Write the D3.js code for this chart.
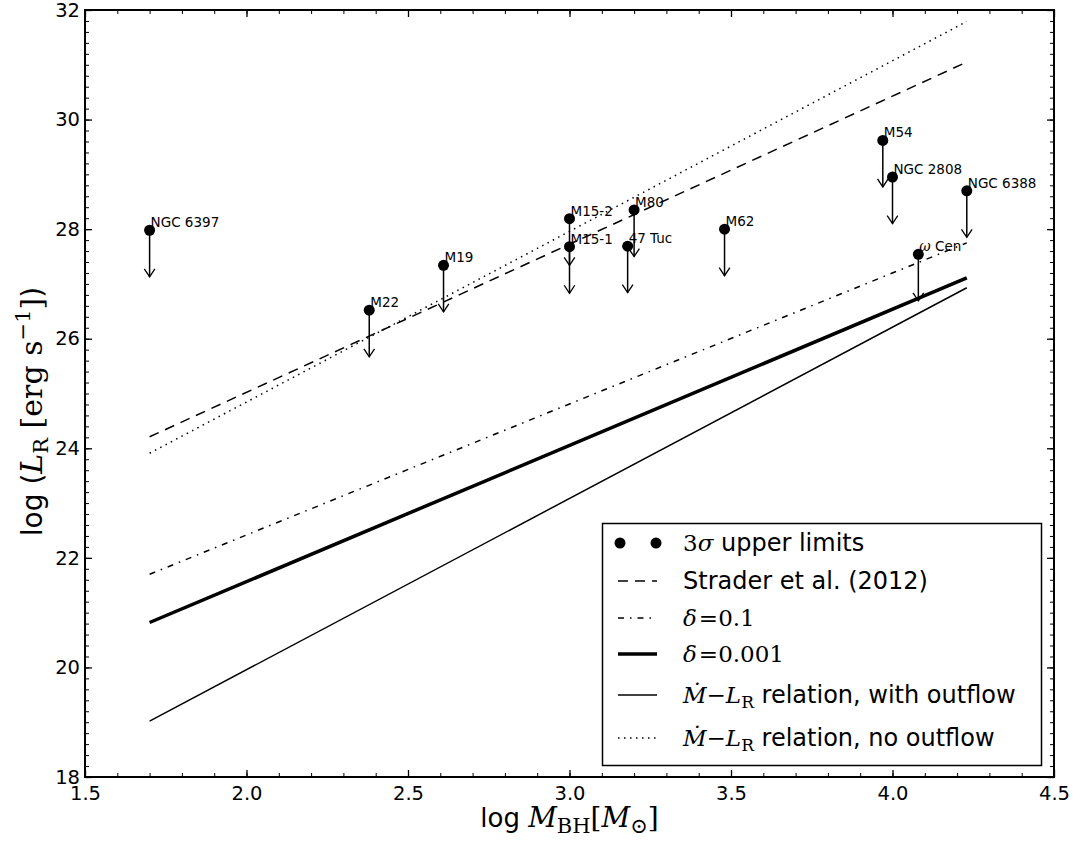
<!DOCTYPE html>
<html>
<head>
<meta charset="utf-8">
<script src="https://cdn.jsdelivr.net/npm/d3@7"></script>
<style>
  body { margin: 0; background: #fff; }
  text { fill: #000; }
  .sans { font-family: 'DejaVu Sans', sans-serif; }
  .math { font-family: 'DejaVu Serif', serif; }
</style>
</head>
<body>
<div class="container"></div>
<script>
// globular clusters, 3 sigma upper limits
const clusters = ['NGC 6397', 'M22', 'M19', 'M15-2', 'M15-1', 'M80', '47 Tuc', 'M62', 'M54', 'NGC 2808', 'NGC 6388', 'ω Cen']
const logMass = [1.70, 2.38, 2.61, 3.00, 3.00, 3.20, 3.18, 3.48, 3.97, 4.00, 4.23, 4.08]
const logLum = [27.98, 26.52, 27.34, 28.19, 27.68, 28.35, 27.69, 28.00, 29.62, 28.95, 28.70, 27.54]
const limitLength = 0.85

// model relations, evaluated at the two ends of the mass range
const relationMass = [1.70, 4.23]
const strader = [24.21, 31.05]
const noOutflow = [23.91, 31.79]
const delta01 = [21.70, 27.75]
const delta0001 = [20.82, 27.11]
const withOutflow = [19.02, 26.93]

const xTicks = [1.5, 2.0, 2.5, 3.0, 3.5, 4.0, 4.5]
const yTicks = [18, 20, 22, 24, 26, 28, 30, 32]

const width = 1076
const height = 849
const margin = { left: 85, top: 10, right: 22, bottom: 72 }

const svg = d3.select('.container').append('svg')
  .attr('width', width).attr('height', height)

const x = d3.scaleLinear().domain([1.5, 4.5]).range([margin.left, width - margin.right])
const y = d3.scaleLinear().domain([18, 32]).range([height - margin.bottom, margin.top])

// relation lines
const relations = [
  { values: strader, width: 1.5, dash: '10,7' },
  { values: noOutflow, width: 1.5, dash: '1.5,4.5' },
  { values: delta01, width: 1.5, dash: '6,6,1.5,6' },
  { values: delta0001, width: 3.5, dash: null },
  { values: withOutflow, width: 1.5, dash: null }
]

const line = d3.line().x(d => x(d[0])).y(d => y(d[1]))

svg.append('g').selectAll('path')
  .data(relations)
  .enter().append('path')
    .attr('d', d => line(relationMass.map((m, i) => [m, d.values[i]])))
    .attr('fill', 'none')
    .attr('stroke', '#000')
    .attr('stroke-width', d => d.width)
    .attr('stroke-dasharray', d => d.dash)

// upper limits
const points = clusters.map((name, i) => ({ name, m: logMass[i], l: logLum[i] }))

const limits = svg.append('g').selectAll('g')
  .data(points)
  .enter().append('g')

limits.append('line')
  .attr('x1', d => x(d.m)).attr('x2', d => x(d.m))
  .attr('y1', d => y(d.l)).attr('y2', d => y(d.l - limitLength))
  .attr('stroke', '#000').attr('stroke-width', 1.5)

limits.append('path')
  .attr('d', d => {
    const px = x(d.m)
    const py = y(d.l - limitLength)
    return `M${ px - 5.3 },${ py - 8 }L${ px },${ py }L${ px + 5.3 },${ py - 8 }`
  })
  .attr('fill', 'none').attr('stroke', '#000').attr('stroke-width', 1.3)

limits.append('circle')
  .attr('cx', d => x(d.m)).attr('cy', d => y(d.l))
  .attr('r', 5.5).attr('fill', '#000')

limits.append('text')
  .attr('class', 'sans')
  .attr('x', d => x(d.m) + 1)
  .attr('y', d => y(d.l) - 3)
  .attr('font-size', 13.5)
  .each(function (d) {
    const t = d3.select(this)
    if (d.name.startsWith('ω')) {
      t.append('tspan').attr('class', 'math').attr('font-style', 'italic').attr('font-size', 14).text('ω')
      t.append('tspan').text(d.name.slice(1))
    } else {
      t.text(d.name)
    }
  })

// axes, ticks pointing inward on all four sides
const plotW = width - margin.left - margin.right
const plotH = height - margin.top - margin.bottom
const xMinor = d3.range(1.5, 4.501, 0.1)
const yMinor = d3.range(18, 32.001, 0.2)

const axisDefs = [
  { axis: d3.axisBottom, scale: x, at: `translate(0,${ height - margin.bottom })`, labels: true },
  { axis: d3.axisTop, scale: x, at: `translate(0,${ margin.top })`, labels: false },
  { axis: d3.axisLeft, scale: y, at: `translate(${ margin.left },0)`, labels: true },
  { axis: d3.axisRight, scale: y, at: `translate(${ width - margin.right },0)`, labels: false }
]

axisDefs.forEach(def => {
  const isX = def.scale === x
  const minor = def.axis(def.scale).tickValues(isX ? xMinor : yMinor).tickSize(-4).tickFormat('')
  svg.append('g').attr('transform', def.at).call(minor)
    .call(g => g.select('.domain').remove())
    .call(g => g.selectAll('line').attr('stroke', '#000').attr('stroke-width', 1))

  const major = def.axis(def.scale)
    .tickValues(isX ? xTicks : yTicks)
    .tickSize(-7)
    .tickPadding(isX ? 9 : 5)
    .tickFormat(def.labels ? (isX ? d3.format('.1f') : d3.format('d')) : '')
  svg.append('g').attr('class', 'sans').attr('transform', def.at).call(major)
    .call(g => g.select('.domain').remove())
    .call(g => g.selectAll('line').attr('stroke', '#000').attr('stroke-width', 1.3))
    .call(g => g.selectAll('text').attr('font-size', 19.5).attr('font-family', 'DejaVu Sans').attr('fill', '#000'))
})

svg.append('rect')
  .attr('x', margin.left).attr('y', margin.top)
  .attr('width', plotW).attr('height', plotH)
  .attr('fill', 'none').attr('stroke', '#000').attr('stroke-width', 2)

// axis labels
const xLabel = svg.append('text')
  .attr('x', margin.left + plotW / 2).attr('y', 827)
  .attr('text-anchor', 'middle').attr('font-size', 26)
xLabel.append('tspan').attr('class', 'sans').text('log ')
xLabel.append('tspan').attr('class', 'math').attr('font-style', 'italic').attr('font-size', 28).text('M')
xLabel.append('tspan').attr('class', 'math').attr('font-size', 21).attr('dy', 6).text('BH')
xLabel.append('tspan').attr('class', 'math').attr('font-size', 28).attr('dy', -6).text('[')
xLabel.append('tspan').attr('class', 'math').attr('font-style', 'italic').attr('font-size', 28).text('M')
xLabel.append('tspan').attr('class', 'math').attr('font-size', 21).attr('dy', 6).text('⊙')
xLabel.append('tspan').attr('class', 'math').attr('font-size', 28).attr('dy', -6).text(']')

const yLabel = svg.append('text')
  .attr('transform', `translate(42,${ margin.top + plotH / 2 + 18 }) rotate(-90)`)
  .attr('text-anchor', 'middle').attr('font-size', 28)
yLabel.append('tspan').attr('class', 'sans').text('log (')
yLabel.append('tspan').attr('class', 'math').attr('font-style', 'italic').attr('font-size', 30).text('L')
yLabel.append('tspan').attr('class', 'math').attr('font-size', 21).attr('dy', 6).text('R')
yLabel.append('tspan').attr('class', 'math').attr('font-size', 30).attr('dy', -6).text(' [erg s')
yLabel.append('tspan').attr('class', 'math').attr('font-size', 21).attr('dy', -12).text('−1')
yLabel.append('tspan').attr('class', 'math').attr('font-size', 30).attr('dy', 12).text(']')
yLabel.append('tspan').attr('class', 'sans').text(')')

// legend
const legend = svg.append('g')
legend.append('rect')
  .attr('x', 602.5).attr('y', 523.5).attr('width', 439).attr('height', 242)
  .attr('fill', '#fff').attr('stroke', '#000').attr('stroke-width', 1.5)

const rowY = [543, 581, 618, 654, 695, 738]
const handleX0 = 618
const handleX1 = 657
const textX = 683

// row 0: markers
legend.selectAll('circle.handle').data([handleX0 + 2, handleX1 - 1])
  .enter().append('circle').attr('class', 'handle')
    .attr('cx', d => d).attr('cy', rowY[0]).attr('r', 5.5).attr('fill', '#000')

const lineRows = [relations[0], relations[2], relations[3], relations[4], relations[1]]
legend.selectAll('line.handle').data(lineRows)
  .enter().append('line').attr('class', 'handle')
    .attr('x1', handleX0).attr('x2', handleX1)
    .attr('y1', (d, i) => rowY[i + 1]).attr('y2', (d, i) => rowY[i + 1])
    .attr('stroke', '#000')
    .attr('stroke-width', d => d.width)
    .attr('stroke-dasharray', d => d.dash)

const rowText = (i) => legend.append('text').attr('x', textX).attr('y', rowY[i] + 8).attr('font-size', 24)

let t = rowText(0)
t.append('tspan').attr('class', 'math').attr('font-size', 23).text('3')
t.append('tspan').attr('class', 'math').attr('font-style', 'italic').attr('font-size', 23).text('σ')
t.append('tspan').attr('class', 'sans').text(' upper limits')

rowText(1).attr('class', 'sans').text('Strader et al. (2012)')

t = rowText(2)
t.append('tspan').attr('class', 'math').attr('font-style', 'italic').attr('font-size', 23).text('δ')
t.append('tspan').attr('class', 'math').attr('font-size', 23).attr('dx', 2).text('=0.1')

t = rowText(3)
t.append('tspan').attr('class', 'math').attr('font-style', 'italic').attr('font-size', 23).text('δ')
t.append('tspan').attr('class', 'math').attr('font-size', 23).attr('dx', 2).text('=0.001')

const relationRow = (i, label) => {
  const r = rowText(i)
  r.append('tspan').attr('class', 'math').attr('font-style', 'italic').attr('font-size', 23).text('Ṁ')
  r.append('tspan').attr('class', 'math').attr('font-size', 23).text('−')
  r.append('tspan').attr('class', 'math').attr('font-style', 'italic').attr('font-size', 23).text('L')
  r.append('tspan').attr('class', 'math').attr('font-size', 17).attr('dy', 5).text('R')
  r.append('tspan').attr('class', 'sans').attr('dy', -5).text(label)
}
relationRow(4, ' relation, with outflow')
relationRow(5, ' relation, no outflow')
</script>
</body>
</html>
